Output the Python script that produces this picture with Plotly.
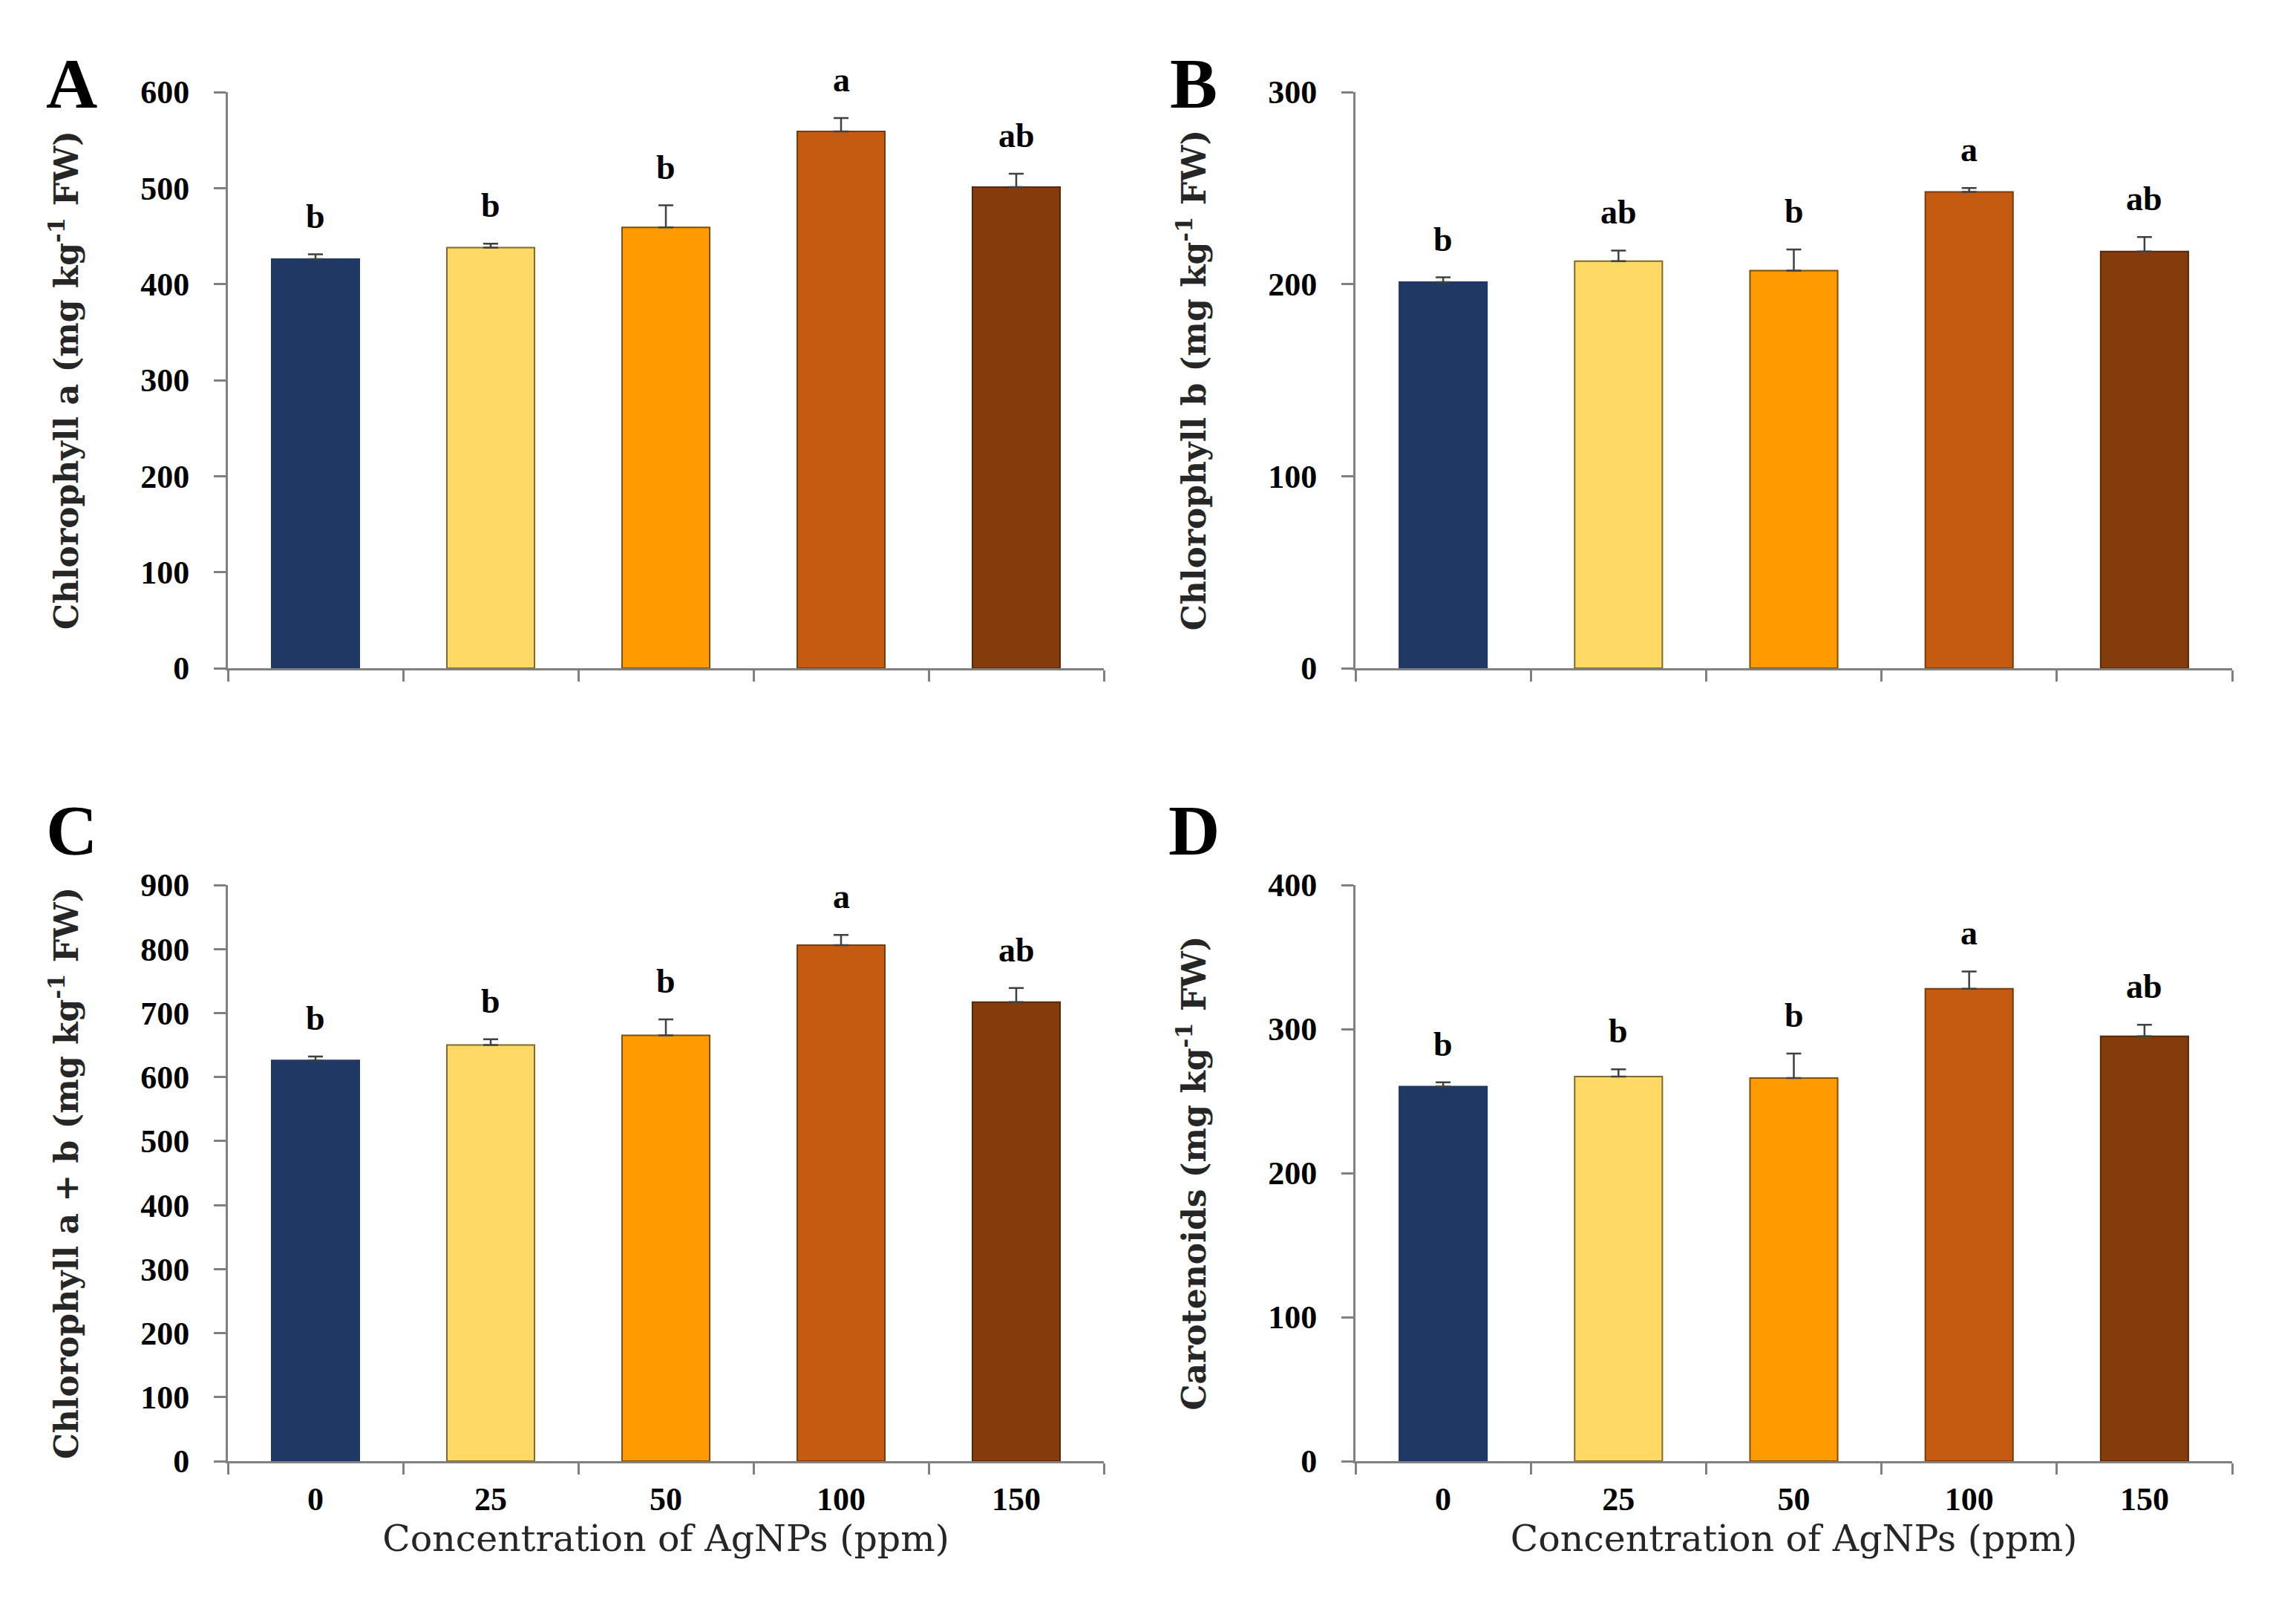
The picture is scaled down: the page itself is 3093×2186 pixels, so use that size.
import plotly.graph_objects as go
from plotly.subplots import make_subplots

categories = ["0", "25", "50", "100", "150"]

chl_a = [426, 438, 459, 559, 501]
chl_a_err = [5, 4, 23, 14, 14]
chl_a_sig = ["b", "b", "b", "a", "ab"]

chl_b = [201, 212, 207, 248, 217]
chl_b_err = [2.5, 5.5, 11, 2, 7.5]
chl_b_sig = ["b", "ab", "b", "a", "ab"]

chl_ab = [626, 650, 665, 806, 717]
chl_ab_err = [6, 9, 25, 16, 22]
chl_ab_sig = ["b", "b", "b", "a", "ab"]

carot = [260, 267, 266, 328, 295]
carot_err = [3, 5, 17, 12, 8]
carot_sig = ["b", "b", "b", "a", "ab"]

bar_colors = ["#203864", "#FFD966", "#FF9A00", "#C55A11", "#843C0C"]
bar_lines = ["#203864", "#7F6A2A", "#7F5000", "#7A3A0C", "#5A2808"]

panels = [
    ("A", chl_a, chl_a_err, chl_a_sig, 600, 100, "Chlorophyll a (mg kg<sup>-1</sup> FW)"),
    ("B", chl_b, chl_b_err, chl_b_sig, 300, 100, "Chlorophyll b (mg kg<sup>-1</sup> FW)"),
    ("C", chl_ab, chl_ab_err, chl_ab_sig, 900, 100, "Chlorophyll a + b (mg kg<sup>-1</sup> FW)"),
    ("D", carot, carot_err, carot_sig, 400, 100, "Carotenoids (mg kg<sup>-1</sup> FW)"),
]

W, H = 3093, 2186
xdom = [[299 / W, 1479 / W], [1818 / W, 2999 / W]]
ydom = [[1 - 892 / H, 1 - 116 / H], [1 - 1960 / H, 1 - 1184 / H]]

fig = make_subplots(rows=2, cols=2)

serif_title = "Palatino Linotype, Book Antiqua, Palatino, DejaVu Serif, serif"
title_font = dict(family=serif_title, size=44, color="#262626")
tick_family = "Liberation Serif, Times New Roman, serif"

for i, (letter, vals, errs, sigs, ymax, dtick, ytitle) in enumerate(panels):
    r, c = i // 2, i % 2
    fig.add_trace(go.Bar(
        x=categories, y=vals,
        marker=dict(color=bar_colors, line=dict(color=bar_lines, width=2)),
        width=0.5,
        error_y=dict(type="data", symmetric=False, array=errs, arrayminus=[0] * len(errs),
                     color="#404040", thickness=2.5, width=10),
        showlegend=False,
    ), row=r + 1, col=c + 1)
    ax = "" if i == 0 else str(i + 1)
    xa = "x" + ax
    ya = "y" + ax
    fig.layout["xaxis" + ax].update(
        domain=xdom[c], type="category", tickson="boundaries", range=[-0.5, 4.5],
        categoryorder="array", categoryarray=categories, automargin=False,
        showline=True, linecolor="#808080", linewidth=3,
        ticks="outside", ticklen=15, tickwidth=3, tickcolor="#808080",
        showticklabels=(r == 1), tickangle=0, ticklabelstandoff=10,
        tickfont=dict(family=tick_family, size=44, color="#000"),
        tickprefix="<b>", ticksuffix="</b>",
        showgrid=False, zeroline=False,
        title=dict(text="Concentration of AgNPs (ppm)" if r == 1 else "",
                   font=dict(family=serif_title, size=49, color="#262626"), standoff=10),
    )
    fig.layout["yaxis" + ax].update(
        domain=ydom[r], range=[0, ymax], dtick=dtick, automargin=False,
        showline=True, linecolor="#808080", linewidth=3,
        ticks="outside", ticklen=16, tickwidth=3, tickcolor="#808080",
        ticklabelstandoff=24,
        tickfont=dict(family=tick_family, size=44, color="#000"),
        tickprefix="<b>", ticksuffix="</b>",
        showgrid=False, zeroline=False,
        title=dict(text="<b>" + ytitle + "</b>", font=title_font, standoff=70),
    )
    # significance letters
    for j, (v, e, s) in enumerate(zip(vals, errs, sigs)):
        fig.add_annotation(x=j, y=v + e, xref=xa, yref=ya, text="<b>" + s + "</b>",
                           showarrow=False, yanchor="bottom", yshift=24,
                           font=dict(family=tick_family, size=46, color="#000"))
    # panel letter
    lx = [88, 1600][c] / W
    ly = 1 - [104, 1110][r] / H
    fig.add_annotation(x=lx, y=ly, xref="paper", yref="paper", text="<b>" + letter + "</b>",
                       showarrow=False, xanchor="center", yanchor="middle",
                       font=dict(family=tick_family, size=96, color="#000"))

fig.update_layout(width=W, height=H, margin=dict(l=0, r=0, t=0, b=0, autoexpand=False),
                  plot_bgcolor="white", paper_bgcolor="white", bargap=0.5)

fig.write_html("out.html")
